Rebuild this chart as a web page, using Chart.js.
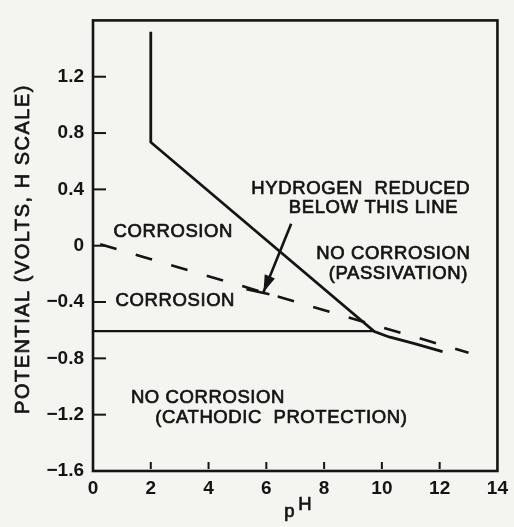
<!DOCTYPE html>
<html>
<head>
<meta charset="utf-8">
<script src="https://cdn.jsdelivr.net/npm/chart.js@4.4.1/dist/chart.umd.min.js"></script>
<style>
  html, body { margin: 0; padding: 0; background: #f4f4f1; }
  canvas { display: block; }
</style>
</head>
<body>
<canvas id="chart" width="514" height="527"></canvas>
<script>
// axis ticks
var X_TICKS = [0, 2, 4, 6, 8, 10, 12, 14];
var Y_TICKS = [-1.6, -1.2, -0.8, -0.4, 0, 0.4, 0.8, 1.2];
var Y_TICK_LABELS = ['\u22121.6', '\u22121.2', '\u22120.8', '\u22120.4', '0', '0.4', '0.8', '1.2'];

// solid boundary (passivation line)
var boundaryPH = [2, 2, 9.74, 10.25, 11.1, 12.1];
var boundaryE = [1.52, 0.735, -0.61, -0.648, -0.694, -0.752];

// cathodic protection limit
var cathodicPH = [0, 9.74];
var cathodicE = [-0.606, -0.606];

// hydrogen line (dashed)
var hydrogenPH = [0.25, 13.0];
var hydrogenE = [0.01, -0.76];

// arrow pointing to hydrogen line
var arrowPH = [6.86, 5.9];
var arrowE = [0.156, -0.33];

// region labels
var labelText = ['HYDROGEN  REDUCED', 'BELOW THIS LINE', 'CORROSION', 'NO CORROSION', '(PASSIVATION)',
                 'CORROSION', 'NO CORROSION', '(CATHODIC  PROTECTION)'];
var labelPH = [9.27, 9.71, 2.78, 10.4, 10.57, 2.85, 3.98, 6.52];
var labelE = [0.40, 0.268, 0.10, -0.06, -0.20, -0.39, -1.08, -1.22];

var INK = '#141414';
var FONT = '"Liberation Sans", Arial, sans-serif';

function pts(xs, ys) {
    return xs.map(function (x, i) { return { x: x, y: ys[i] }; });
}

// text slightly heavier than regular, like the stencil lettering
function inkText(ctx, t, x, y) {
    ctx.fillText(t, x, y);
    ctx.strokeText(t, x, y);
}

var decorPlugin = {
    id: 'decor',
    afterDatasetsDraw: function (chart) {
        var ctx = chart.ctx;
        var a = chart.chartArea;
        var xs = chart.scales.x, ys = chart.scales.y;
        ctx.save();
        ctx.strokeStyle = INK;
        ctx.fillStyle = INK;

        // frame
        ctx.lineWidth = 2.6;
        ctx.strokeRect(a.left, a.top, a.right - a.left, a.bottom - a.top);

        // inner tick marks
        ctx.lineWidth = 2;
        Y_TICKS.forEach(function (v) {
            var y = ys.getPixelForValue(v);
            ctx.beginPath();
            ctx.moveTo(a.left, y);
            ctx.lineTo(a.left + 13, y);
            ctx.stroke();
        });
        X_TICKS.slice(1, -1).forEach(function (v) {
            var x = xs.getPixelForValue(v);
            ctx.beginPath();
            ctx.moveTo(x, a.bottom - 9);
            ctx.lineTo(x, a.bottom - 2);
            ctx.stroke();
        });

        // arrow head
        var x0 = xs.getPixelForValue(arrowPH[0]), y0 = ys.getPixelForValue(arrowE[0]);
        var x1 = xs.getPixelForValue(arrowPH[1]), y1 = ys.getPixelForValue(arrowE[1]);
        var ang = Math.atan2(y1 - y0, x1 - x0);
        var len = 17, half = 5.5;
        ctx.beginPath();
        ctx.moveTo(x1, y1);
        ctx.lineTo(x1 - len * Math.cos(ang) + half * Math.sin(ang), y1 - len * Math.sin(ang) - half * Math.cos(ang));
        ctx.lineTo(x1 - len * Math.cos(ang) - half * Math.sin(ang), y1 - len * Math.sin(ang) + half * Math.cos(ang));
        ctx.closePath();
        ctx.fill();
        // short bar at the arrow tip
        ctx.lineWidth = 2.6;
        ctx.beginPath();
        ctx.moveTo(x1 - 17, y1 - 3);
        ctx.lineTo(x1 + 6, y1 + 2);
        ctx.stroke();

        // region labels
        ctx.lineWidth = 0.7;
        ctx.lineJoin = 'round';
        ctx.font = '18.5px ' + FONT;
        ctx.letterSpacing = '0.6px';
        ctx.textAlign = 'center';
        ctx.textBaseline = 'middle';
        labelText.forEach(function (t, i) {
            inkText(ctx, t, xs.getPixelForValue(labelPH[i]), ys.getPixelForValue(labelE[i]));
        });

        // x title "pH" with the p set lower
        var cx = xs.getPixelForValue(7);
        ctx.textAlign = 'left';
        ctx.letterSpacing = '0px';
        inkText(ctx, 'p', cx - 11, 512);
        inkText(ctx, 'H', cx + 3, 505);

        // y title
        ctx.translate(23, 249);
        ctx.rotate(-Math.PI / 2);
        ctx.textAlign = 'center';
        ctx.font = '20px ' + FONT;
        ctx.letterSpacing = '1.5px';
        inkText(ctx, 'POTENTIAL (VOLTS, H SCALE)', 0, 0);
        ctx.restore();
    }
};

var lineStyle = { showLine: true, pointRadius: 0, borderColor: INK, fill: false, tension: 0 };

new Chart(document.getElementById('chart'), {
    type: 'scatter',
    data: {
        datasets: [
            Object.assign({ data: pts(boundaryPH, boundaryE), borderWidth: 2.8 }, lineStyle),
            Object.assign({ data: pts(cathodicPH, cathodicE), borderWidth: 2.2 }, lineStyle),
            Object.assign({ data: pts(hydrogenPH, hydrogenE), borderWidth: 2.6, borderDash: [17, 20] }, lineStyle),
            Object.assign({ data: pts(arrowPH, arrowE), borderWidth: 2.6 }, lineStyle)
        ]
    },
    options: {
        responsive: false,
        animation: false,
        events: [],
        layout: { padding: { top: 11, right: 13, left: 0, bottom: 0 } },
        plugins: { legend: { display: false }, tooltip: { enabled: false } },
        scales: {
            x: {
                type: 'linear',
                min: 0, max: 14,
                afterBuildTicks: function (s) { s.ticks = X_TICKS.map(function (v) { return { value: v }; }); },
                afterFit: function (s) { s.height = 56; },
                grid: { display: false, drawTicks: false },
                border: { display: false },
                ticks: { color: INK, font: { family: FONT, size: 19, weight: 'bold' }, padding: 6, maxRotation: 0, autoSkip: false }
            },
            y: {
                type: 'linear',
                min: -1.6, max: 1.6,
                afterBuildTicks: function (s) { s.ticks = Y_TICKS.map(function (v) { return { value: v }; }); },
                afterFit: function (s) { s.width = 93; },
                grid: { display: false, drawTicks: false },
                border: { display: false },
                ticks: {
                    color: INK, font: { family: FONT, size: 19, weight: 'bold' }, padding: 9, autoSkip: false,
                    callback: function (v, i) { return Y_TICK_LABELS[i]; }
                }
            }
        }
    },
    plugins: [decorPlugin]
});
</script>
</body>
</html>
